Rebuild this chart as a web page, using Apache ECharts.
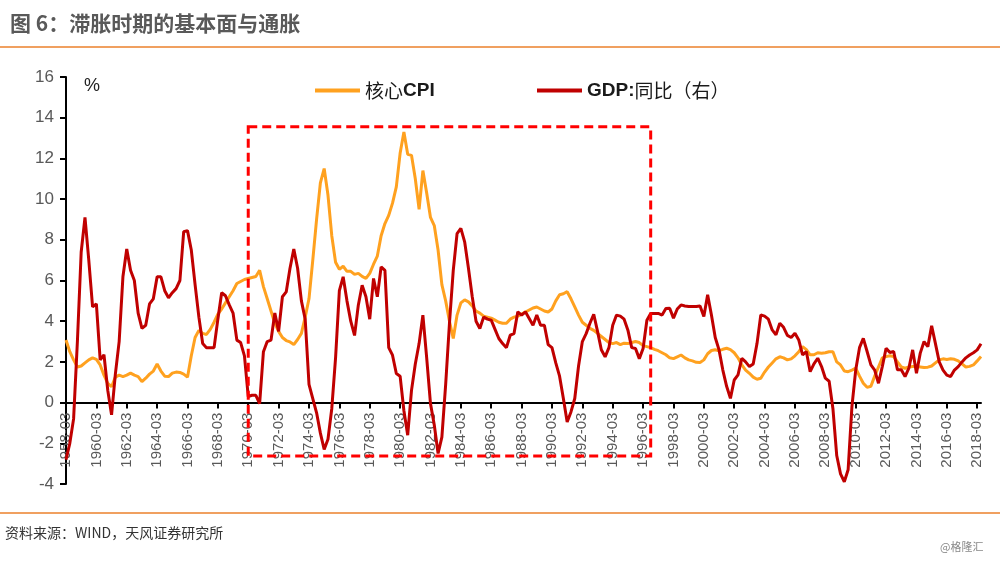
<!DOCTYPE html>
<html>
<head>
<meta charset="utf-8">
<script src="https://cdn.jsdelivr.net/npm/echarts@6/dist/echarts.min.js"></script>
<style>
html,body{margin:0;padding:0;background:#fff;}
#c{width:1000px;height:562px;}
</style>
</head>
<body>
<div id="c"></div>
<script>
// Quarterly categories 1958-03 .. 2018-06
var startYear = 1958;
var nPoints = 242;
var categories = [];
var qMonths = ['03', '06', '09', '12'];
for (var k = 0; k < nPoints; k++) {
  categories.push((startYear + Math.floor(k / 4)) + '-' + qMonths[k % 4]);
}

var yTicks = { min: -4, max: 16, interval: 2 };

// 核心CPI (%)
var coreCPI = [
3.08,2.5,2.1,1.75,1.8,1.95,2.1,2.2,2.12,1.85,
1.35,0.95,0.78,1.25,1.35,1.28,1.35,1.45,1.35,1.28,
1.03,1.2,1.4,1.55,1.9,1.55,1.3,1.28,1.45,1.5,
1.48,1.4,1.25,2.3,3.2,3.55,3.4,3.35,3.6,3.95,
4.35,4.6,4.9,5.2,5.5,5.85,5.95,6.05,6.1,6.15,
6.2,6.5,5.7,5.1,4.5,3.9,3.5,3.2,3.05,2.98,
2.85,3.1,3.4,4.2,5.1,7.0,9.0,10.8,11.5,10.2,
8.2,6.9,6.55,6.7,6.45,6.45,6.3,6.35,6.2,6.1,
6.35,6.8,7.2,8.2,8.8,9.2,9.8,10.6,12.25,13.3,
12.2,12.15,11.0,9.5,11.4,10.3,9.1,8.7,7.5,5.8,
5.0,4.0,3.15,4.3,4.9,5.05,4.95,4.75,4.5,4.4,
4.25,4.2,4.15,4.05,3.95,3.9,3.9,4.1,4.2,4.25,
4.35,4.45,4.55,4.65,4.7,4.6,4.5,4.45,4.6,5.0,
5.3,5.35,5.45,5.1,4.7,4.3,3.95,3.8,3.65,3.55,
3.4,3.25,3.1,2.95,2.9,2.95,2.85,2.92,2.9,2.95,
3.0,2.95,2.8,2.75,2.7,2.62,2.55,2.45,2.35,2.2,
2.16,2.25,2.34,2.2,2.1,2.05,1.98,1.97,2.1,2.4,
2.56,2.6,2.55,2.62,2.67,2.6,2.45,2.2,1.85,1.6,
1.44,1.25,1.15,1.2,1.5,1.75,1.95,2.15,2.25,2.2,
2.1,2.15,2.3,2.5,2.75,2.6,2.35,2.35,2.45,2.43,
2.45,2.5,2.5,2.0,1.85,1.55,1.52,1.6,1.69,1.3,
0.95,0.75,0.8,1.3,1.75,2.2,2.26,2.3,2.26,2.0,
1.75,1.69,1.75,1.77,1.77,1.75,1.72,1.74,1.8,1.95,
2.1,2.15,2.12,2.15,2.13,2.05,1.9,1.75,1.78,1.85,
2.05,2.26
];

// GDP:同比 (%)
var gdpYoY = [
-2.8,-2.0,-0.8,3.0,7.4,9.1,7.0,4.7,4.85,2.1,
2.35,0.6,-0.6,1.4,3.0,6.2,7.55,6.5,6.0,4.4,
3.65,3.8,4.85,5.1,6.18,6.18,5.5,5.15,5.4,5.6,
6.0,8.4,8.45,7.5,5.8,4.2,2.9,2.7,2.7,2.7,
4.1,5.4,5.25,4.8,4.4,3.07,2.95,2.3,0.3,0.36,
0.36,-0.05,2.5,3.0,3.07,4.4,3.5,5.2,5.44,6.6,
7.55,6.6,5.0,4.1,0.9,0.2,-0.5,-1.5,-2.3,-1.8,
-0.3,2.2,5.5,6.18,5.0,4.0,3.3,4.8,5.77,5.2,
4.1,6.1,5.2,6.67,6.5,2.7,2.33,1.43,1.3,-0.4,
-1.6,0.6,1.9,2.9,4.3,2.2,-0.05,-1.1,-2.5,-1.7,
0.9,3.9,6.5,8.3,8.56,7.9,6.6,5.2,4.0,3.64,
4.2,4.1,4.05,3.6,3.15,2.9,2.7,3.31,3.39,4.46,
4.3,4.46,4.13,3.8,4.3,3.8,3.8,2.85,2.7,1.95,
1.3,0.2,-0.95,-0.46,0.2,1.8,3.0,3.39,3.9,4.34,
3.5,2.6,2.25,2.7,3.8,4.3,4.25,4.1,3.56,2.7,
2.66,2.16,2.66,4.05,4.38,4.38,4.38,4.3,4.62,4.64,
4.15,4.6,4.8,4.75,4.72,4.72,4.72,4.75,4.23,5.3,
4.3,3.2,2.59,1.6,0.8,0.21,1.11,1.36,2.18,2.0,
1.77,1.9,2.9,4.31,4.25,4.1,3.57,3.33,3.9,3.7,
3.3,3.2,3.41,3.08,2.34,2.51,1.52,1.9,2.18,1.77,
1.2,1.05,-0.3,-2.6,-3.5,-3.89,-3.3,-0.2,1.6,2.7,
3.16,2.51,1.85,1.6,0.95,1.77,2.67,2.46,2.51,1.61,
1.61,1.28,1.69,2.59,1.44,2.43,3.0,2.75,3.77,2.9,
2.0,1.6,1.35,1.28,1.6,1.77,2.0,2.2,2.34,2.45,
2.59,2.89
];

// Stagflation window (dashed box): category indexes and value range
var boxStart = 48, boxEnd = 154, boxTop = 13.55, boxBottom = -2.62;

var seriesNames = ['核心CPI', 'GDP:同比（右）'];

var chart = echarts.init(document.getElementById('c'), null, {renderer: 'canvas'});
var latin = 'Liberation Sans, Arial, sans-serif';
var cjk = '"Noto Sans CJK SC", sans-serif';

var gridTop = 77, gridBottom = 78, chartH = 562;
var plotH = chartH - gridTop - gridBottom;
// shift x axis up so it sits on the zero line
var zeroOffset = -plotH * (0 - yTicks.min) / (yTicks.max - yTicks.min);

var legendText = {
  fontSize: 19, color: '#1a1a1a', fontFamily: cjk,
  rich: {
    b: {fontSize: 19, fontWeight: 'bold', color: '#1a1a1a', fontFamily: latin},
    n: {fontSize: 19, color: '#1a1a1a', fontFamily: cjk}
  }
};

chart.setOption({
  animation: false,
  backgroundColor: '#ffffff',
  grid: {left: 66, right: 19, top: gridTop, bottom: gridBottom, containLabel: false},
  legend: [
    {data: [seriesNames[0]], left: 310, top: 76, icon: 'rect', itemWidth: 45, itemHeight: 4,
     textStyle: legendText, formatter: function () { return '{n|核心}{b|CPI}'; }},
    {data: [seriesNames[1]], left: 532, top: 76, icon: 'rect', itemWidth: 45, itemHeight: 4,
     textStyle: legendText, formatter: function () { return '{b|GDP:}{n|同比（右）}'; }}
  ],
  xAxis: {
    type: 'category',
    data: categories,
    boundaryGap: false,
    offset: zeroOffset,
    axisLine: {onZero: false, lineStyle: {color: '#000', width: 2}},
    axisTick: {show: true, interval: 7, length: 6, lineStyle: {color: '#000', width: 2}},
    axisLabel: {interval: 7, rotate: 90, margin: 10, fontSize: 15, color: '#595959', fontFamily: latin},
    splitLine: {show: false}
  },
  yAxis: {
    type: 'value',
    min: yTicks.min, max: yTicks.max, interval: yTicks.interval,
    axisLine: {show: true, lineStyle: {color: '#000', width: 2}},
    axisTick: {show: true, length: 6, lineStyle: {color: '#000', width: 2}},
    axisLabel: {fontSize: 17, color: '#595959', margin: 12, fontFamily: latin},
    splitLine: {show: false}
  },
  series: [
    {
      name: seriesNames[0], type: 'line', data: coreCPI, symbol: 'none',
      lineStyle: {color: '#FFA11F', width: 3}, itemStyle: {color: '#FFA11F'}, z: 3
    },
    {
      name: seriesNames[1], type: 'line', data: gdpYoY, symbol: 'none',
      lineStyle: {color: '#C00000', width: 3}, itemStyle: {color: '#C00000'}, z: 4,
      markArea: {
        silent: true, z: 6,
        itemStyle: {color: 'rgba(0,0,0,0)', borderColor: '#FF0000', borderWidth: 3, borderType: [9, 5]},
        data: [[{coord: [categories[boxStart], boxTop]}, {coord: [categories[boxEnd], boxBottom]}]]
      }
    }
  ],
  graphic: [
    {type: 'text', left: 10, top: 13, style: {text: '图 6：滞胀时期的基本面与通胀', fontSize: 21, fontWeight: 'bold', fill: '#595959', fontFamily: cjk}},
    {type: 'rect', shape: {x: 0, y: 46, width: 1000, height: 2}, style: {fill: '#F0A060'}},
    {type: 'text', left: 84, top: 77, style: {text: '%', fontSize: 18, fill: '#222', fontFamily: latin}},
    {type: 'rect', shape: {x: 0, y: 512, width: 1000, height: 2}, style: {fill: '#F0A060'}},
    {type: 'text', left: 5, top: 526, style: {text: '资料来源：WIND，天风证券研究所', fontSize: 14, fill: '#333', fontFamily: cjk}},
    {type: 'text', left: 940, top: 541, style: {text: '@格隆汇', fontSize: 11, fill: '#888', fontFamily: cjk}}
  ]
});
</script>
</body>
</html>
